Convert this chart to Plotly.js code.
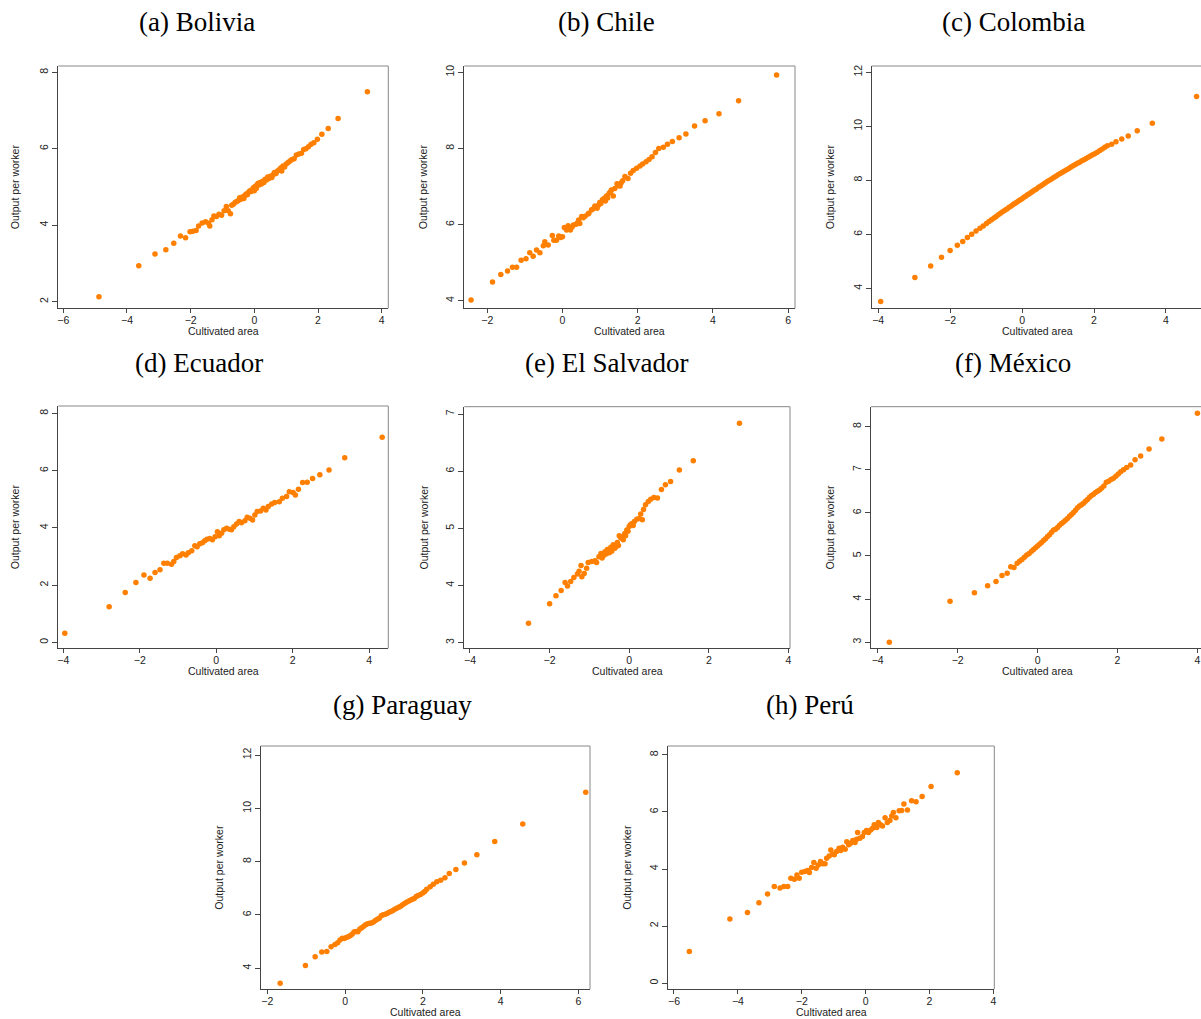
<!DOCTYPE html>
<html><head><meta charset="utf-8">
<script src="https://cdn.plot.ly/plotly-3.0.1.min.js"></script>
<style>body{margin:0;background:#fff}#chart{width:1201px;height:1019px}</style>
</head><body><div id="chart"></div>
<script>
// ---------- data ----------
const panelTitles = ["(a) Bolivia","(b) Chile","(c) Colombia","(d) Ecuador","(e) El Salvador","(f) México","(g) Paraguay","(h) Perú"];
const xLabel = "Cultivated area";
const yLabel = "Output per worker";

const boliviaX = [-4.88,-3.63,-3.12,-2.78,-2.53,-2.32,-2.16,-2.02,-1.93,-1.83,-1.75,-1.64,-1.53,-1.44,-1.40,-1.33,-1.27,-1.19,-1.11,-1.03,-0.95,-0.88,-0.82,-0.75,-0.71,-0.66,-0.60,-0.55,-0.50,-0.46,-0.42,-0.38,-0.33,-0.30,-0.26,-0.22,-0.18,-0.14,-0.10,-0.07,-0.03,0.00,0.03,0.06,0.09,0.12,0.15,0.19,0.22,0.26,0.30,0.34,0.38,0.42,0.46,0.50,0.55,0.59,0.63,0.68,0.73,0.78,0.83,0.86,0.90,0.95,1.00,1.06,1.12,1.18,1.25,1.32,1.40,1.48,1.55,1.62,1.70,1.78,1.87,1.98,2.12,2.32,2.63,3.55];
const boliviaY = [2.13,2.94,3.25,3.36,3.53,3.72,3.67,3.83,3.84,3.86,3.98,4.06,4.09,4.05,3.98,4.14,4.24,4.23,4.29,4.26,4.38,4.49,4.38,4.30,4.52,4.55,4.60,4.62,4.65,4.72,4.68,4.74,4.70,4.78,4.82,4.80,4.86,4.90,4.88,4.93,4.98,4.90,5.02,4.96,5.06,5.10,5.05,5.12,5.08,5.15,5.12,5.20,5.18,5.26,5.22,5.28,5.25,5.32,5.38,5.35,5.42,5.45,5.50,5.42,5.55,5.52,5.60,5.64,5.68,5.72,5.74,5.84,5.86,5.88,5.98,6.00,6.05,6.12,6.16,6.25,6.38,6.53,6.79,7.49];

const chileX = [-2.43,-1.86,-1.64,-1.46,-1.33,-1.22,-1.10,-0.97,-0.87,-0.78,-0.69,-0.60,-0.51,-0.47,-0.38,-0.27,-0.23,-0.16,-0.10,-0.05,0.00,0.05,0.08,0.11,0.15,0.21,0.25,0.29,0.36,0.40,0.43,0.46,0.51,0.55,0.60,0.68,0.70,0.77,0.80,0.86,0.92,0.95,0.99,1.02,1.06,1.11,1.14,1.17,1.20,1.24,1.28,1.30,1.35,1.39,1.45,1.48,1.53,1.56,1.60,1.66,1.74,1.81,1.88,1.97,2.06,2.13,2.22,2.30,2.38,2.47,2.56,2.68,2.79,2.92,3.10,3.28,3.51,3.79,4.16,4.68,5.69];
const chileY = [4.02,4.49,4.69,4.78,4.88,4.88,5.06,5.10,5.26,5.17,5.33,5.26,5.44,5.55,5.46,5.71,5.59,5.59,5.70,5.66,5.68,5.92,5.90,5.86,5.97,5.86,5.93,5.99,6.01,6.05,6.12,6.03,6.21,6.18,6.22,6.28,6.30,6.38,6.40,6.49,6.43,6.50,6.58,6.55,6.65,6.69,6.62,6.75,6.70,6.82,6.86,6.91,6.75,6.95,7.07,7.02,7.01,7.10,7.15,7.26,7.21,7.35,7.42,7.48,7.54,7.59,7.65,7.71,7.78,7.89,8.00,8.03,8.11,8.18,8.28,8.38,8.59,8.73,8.91,9.25,9.93];

const colombiaX = [-3.93,-2.98,-2.54,-2.24,-2.00,-1.80,-1.65,-1.52,-1.40,-1.28,-1.17,-1.08,-0.99,-0.92,-0.85,-0.78,-0.72,-0.66,-0.60,-0.54,-0.48,-0.42,-0.36,-0.30,-0.25,-0.20,-0.15,-0.10,-0.05,0.00,0.05,0.10,0.15,0.20,0.25,0.30,0.35,0.40,0.46,0.52,0.58,0.64,0.70,0.76,0.82,0.88,0.94,1.00,1.06,1.12,1.18,1.24,1.30,1.36,1.42,1.48,1.54,1.60,1.66,1.72,1.78,1.84,1.90,1.96,2.02,2.09,2.16,2.23,2.30,2.37,2.49,2.61,2.77,2.95,3.20,3.62,4.85];
const colombiaY = [3.51,4.40,4.83,5.15,5.40,5.59,5.73,5.88,6.00,6.12,6.22,6.31,6.40,6.47,6.54,6.60,6.66,6.72,6.78,6.83,6.89,6.94,7.00,7.05,7.10,7.14,7.19,7.23,7.28,7.32,7.37,7.41,7.46,7.50,7.55,7.59,7.64,7.68,7.74,7.79,7.84,7.90,7.95,8.00,8.05,8.10,8.15,8.20,8.25,8.30,8.34,8.39,8.44,8.49,8.54,8.58,8.63,8.67,8.72,8.76,8.81,8.85,8.90,8.94,8.98,9.04,9.10,9.16,9.22,9.28,9.33,9.43,9.53,9.64,9.83,10.11,11.10];

const ecuadorX = [-3.96,-2.80,-2.38,-2.10,-1.89,-1.73,-1.60,-1.47,-1.37,-1.28,-1.17,-1.11,-1.04,-0.95,-0.88,-0.79,-0.73,-0.64,-0.56,-0.50,-0.43,-0.36,-0.30,-0.24,-0.17,-0.10,-0.03,0.03,0.08,0.14,0.20,0.27,0.34,0.40,0.46,0.53,0.60,0.66,0.75,0.81,0.88,0.95,1.01,1.07,1.16,1.23,1.30,1.36,1.45,1.53,1.65,1.73,1.84,1.91,2.01,2.07,2.15,2.26,2.38,2.52,2.71,2.95,3.36,4.34];
const ecuadorY = [0.32,1.24,1.74,2.09,2.35,2.24,2.44,2.53,2.76,2.76,2.73,2.82,2.96,3.02,3.09,3.05,3.13,3.20,3.37,3.34,3.44,3.48,3.55,3.60,3.63,3.58,3.69,3.86,3.72,3.81,3.93,3.98,3.95,3.93,4.04,4.13,4.22,4.18,4.25,4.37,4.33,4.27,4.45,4.57,4.59,4.68,4.62,4.74,4.83,4.88,4.91,5.03,5.09,5.26,5.23,5.15,5.35,5.58,5.59,5.72,5.85,6.02,6.45,7.16];

const salvadorX = [-2.53,-2.00,-1.84,-1.71,-1.61,-1.55,-1.47,-1.39,-1.30,-1.26,-1.21,-1.19,-1.13,-1.07,-1.03,-0.94,-0.86,-0.82,-0.76,-0.71,-0.68,-0.65,-0.61,-0.58,-0.55,-0.52,-0.50,-0.46,-0.44,-0.40,-0.36,-0.33,-0.30,-0.27,-0.25,-0.21,-0.18,-0.15,-0.11,-0.09,-0.06,-0.03,0.00,0.03,0.06,0.10,0.13,0.19,0.25,0.29,0.33,0.36,0.41,0.48,0.54,0.62,0.71,0.81,0.91,1.04,1.26,1.61,2.77];
const salvadorY = [3.34,3.68,3.82,3.91,4.05,3.99,4.07,4.14,4.20,4.25,4.35,4.15,4.21,4.30,4.40,4.42,4.43,4.40,4.50,4.56,4.48,4.52,4.59,4.55,4.63,4.62,4.57,4.67,4.60,4.71,4.65,4.68,4.75,4.70,4.87,4.83,4.85,4.80,4.91,4.87,4.97,4.95,5.03,5.06,5.08,5.05,5.12,5.16,5.17,5.25,5.15,5.33,5.41,5.47,5.51,5.54,5.53,5.68,5.76,5.82,6.02,6.18,6.84];

const mexicoX = [-3.71,-2.19,-1.58,-1.25,-1.04,-0.89,-0.76,-0.67,-0.59,-0.51,-0.45,-0.39,-0.33,-0.27,-0.21,-0.15,-0.10,-0.05,0.00,0.05,0.10,0.15,0.20,0.25,0.30,0.35,0.40,0.45,0.50,0.55,0.60,0.65,0.70,0.75,0.80,0.85,0.90,0.95,1.00,1.05,1.10,1.15,1.20,1.25,1.30,1.35,1.40,1.45,1.50,1.55,1.60,1.66,1.72,1.78,1.84,1.90,1.96,2.02,2.08,2.15,2.23,2.33,2.44,2.58,2.79,3.11,4.00];
const mexicoY = [3.00,3.95,4.15,4.31,4.41,4.55,4.60,4.75,4.73,4.83,4.88,4.92,4.97,5.02,5.06,5.11,5.15,5.19,5.23,5.27,5.31,5.36,5.40,5.45,5.49,5.55,5.60,5.62,5.66,5.71,5.75,5.79,5.83,5.87,5.92,5.96,6.01,6.06,6.12,6.16,6.19,6.22,6.27,6.31,6.36,6.40,6.43,6.47,6.50,6.53,6.57,6.62,6.71,6.73,6.77,6.80,6.85,6.90,6.95,7.00,7.05,7.11,7.23,7.32,7.48,7.71,8.31];

const paraguayX = [-1.67,-1.02,-0.77,-0.60,-0.47,-0.36,-0.26,-0.19,-0.13,-0.07,-0.02,0.03,0.08,0.13,0.18,0.23,0.28,0.33,0.38,0.43,0.48,0.53,0.58,0.63,0.68,0.73,0.78,0.83,0.88,0.93,0.98,1.03,1.08,1.13,1.18,1.23,1.28,1.33,1.38,1.43,1.48,1.53,1.58,1.63,1.68,1.73,1.78,1.83,1.88,1.94,2.00,2.05,2.10,2.19,2.27,2.36,2.46,2.57,2.68,2.85,3.07,3.39,3.85,4.57,6.19];
const paraguayY = [3.44,4.10,4.43,4.61,4.63,4.81,4.89,4.96,5.06,5.13,5.12,5.15,5.18,5.22,5.28,5.36,5.38,5.37,5.47,5.52,5.58,5.63,5.67,5.69,5.70,5.74,5.79,5.84,5.88,5.97,6.01,6.03,6.05,6.10,6.13,6.17,6.21,6.25,6.29,6.33,6.38,6.43,6.48,6.51,6.55,6.59,6.62,6.69,6.73,6.77,6.82,6.88,6.96,7.06,7.15,7.25,7.30,7.40,7.56,7.71,7.95,8.26,8.76,9.41,10.60];

const peruX = [-5.52,-4.25,-3.70,-3.34,-3.07,-2.86,-2.68,-2.56,-2.44,-2.34,-2.23,-2.15,-2.08,-2.00,-1.90,-1.82,-1.76,-1.69,-1.62,-1.55,-1.48,-1.41,-1.34,-1.27,-1.22,-1.14,-1.09,-1.03,-0.98,-0.91,-0.83,-0.78,-0.72,-0.64,-0.59,-0.53,-0.47,-0.40,-0.33,-0.28,-0.25,-0.18,-0.10,-0.04,0.03,0.09,0.16,0.22,0.27,0.35,0.40,0.47,0.53,0.61,0.68,0.76,0.82,0.87,0.95,1.05,1.13,1.20,1.31,1.44,1.58,1.77,2.05,2.87];
const peruY = [1.11,2.25,2.47,2.82,3.12,3.39,3.33,3.39,3.39,3.68,3.64,3.79,3.68,3.89,3.91,3.95,3.88,4.05,4.23,4.03,4.14,4.26,4.18,4.18,4.38,4.46,4.67,4.53,4.50,4.61,4.73,4.65,4.76,4.69,4.96,4.85,4.90,5.00,4.93,5.04,5.28,5.08,5.14,5.28,5.35,5.28,5.37,5.43,5.55,5.46,5.63,5.55,5.51,5.80,5.63,5.70,5.86,5.98,5.80,6.04,6.05,6.28,6.07,6.39,6.36,6.54,6.89,7.38];

const seriesX = [boliviaX, chileX, colombiaX, ecuadorX, salvadorX, mexicoX, paraguayX, peruX];
const seriesY = [boliviaY, chileY, colombiaY, ecuadorY, salvadorY, mexicoY, paraguayY, peruY];

// ---------- layout (pixel frames of each plot region) ----------
const W = 1201, H = 1019;
const panels = [
  {frame:[58.3,388.3,66,308.3],   xr:[-6.157,4.207], yr:[1.827,8.165], ydt:2, right:true, title:[197,22]},
  {frame:[464.3,795,66,308.3],    xr:[-2.61,6.18],   yr:[3.80,10.165], ydt:2, right:true, title:[606,22]},
  {frame:[871.7,1201,66,308.3],   xr:[-4.18,4.973],  yr:[3.26,12.23],  ydt:2, right:false, title:[1013,22], xtc:1037},
  {frame:[58.3,388.3,406,648.3],  xr:[-4.13,4.50],   yr:[-0.21,8.255], ydt:2, right:true, title:[199,363]},
  {frame:[464.3,790,406.7,648.3], xr:[-4.143,4.04],  yr:[2.90,7.128],  ydt:1, right:true, title:[606,363]},
  {frame:[871,1201,406.7,648.3],  xr:[-4.168,4.09],  yr:[2.86,8.46],   ydt:1, right:false, title:[1013,363], xtc:1037},
  {frame:[260.7,590,746,989.3],   xr:[-2.17,6.30],   yr:[3.21,12.34],  ydt:2, right:true, title:[402,705]},
  {frame:[667.7,994.3,746,989.3], xr:[-6.197,4.03],  yr:[-0.22,8.315], ydt:2, right:true, title:[810,705]}
];
const yTitleX = [15,423,830,15,423,829,219,627];

const px = v => v / W;
const py = v => 1 - v / H;
const orange = "rgb(255,127,0)";
const axisCol = "#444";
const tickFont = {family:"Liberation Sans, Arial, sans-serif", size:10.5, color:"#222"};

const data = [];
const layout = {
  width: W, height: H, margin:{l:0,r:0,t:0,b:0},
  paper_bgcolor:"#fff", plot_bgcolor:"#fff", showlegend:false,
  annotations: [], shapes: []
};

panels.forEach((p, i) => {
  const n = i === 0 ? "" : String(i + 1);
  const [l, r, t, b] = p.frame;
  data.push({
    type:"scatter", mode:"markers", x: seriesX[i], y: seriesY[i],
    xaxis:"x"+n, yaxis:"y"+n,
    marker:{color:orange, size:5.5, line:{width:0}}, hoverinfo:"skip"
  });
  layout["xaxis"+n] = {
    domain:[px(l), px(r)], range:p.xr, anchor:"y"+n,
    tick0:0, dtick:2, ticks:"outside", ticklen:4, tickwidth:1, tickcolor:axisCol,
    ticklabelstandoff:-2,
    showline:true, linecolor:axisCol, linewidth:1, showgrid:false, zeroline:false,
    tickfont:tickFont, fixedrange:true
  };
  layout["yaxis"+n] = {
    domain:[py(b), py(t)], range:p.yr, anchor:"x"+n,
    tick0:0, dtick:p.ydt, ticks:"outside", ticklen:5, tickwidth:1, tickcolor:axisCol,
    tickangle:-90,
    showline:true, linecolor:axisCol, linewidth:1, showgrid:false, zeroline:false,
    tickfont:tickFont, fixedrange:true
  };
  // top & right frame lines
  layout.shapes.push({type:"line", xref:"x"+n+" domain", yref:"y"+n+" domain", x0:0, x1:1, y0:1, y1:1, line:{color:"#888", width:1}});
  if (p.right) layout.shapes.push({type:"line", xref:"x"+n+" domain", yref:"y"+n+" domain", x0:1, x1:1, y0:0, y1:1, line:{color:"#888", width:1}});
  // panel title
  layout.annotations.push({text:panelTitles[i], xref:"paper", yref:"paper", x:px(p.title[0]), y:py(p.title[1]),
    xanchor:"center", yanchor:"middle", showarrow:false,
    font:{family:"Liberation Serif, Times New Roman, serif", size:27, color:"#000"}});
  // x axis title
  const xc = p.xtc !== undefined ? p.xtc : (l + r) / 2;
  layout.annotations.push({text:xLabel, xref:"paper", yref:"paper", x:px(xc), y:py(b + 23),
    xanchor:"center", yanchor:"middle", showarrow:false,
    font:{family:"Liberation Sans, Arial, sans-serif", size:10.5, color:"#222"}});
  // y axis title
  layout.annotations.push({text:yLabel, xref:"paper", yref:"paper", x:px(yTitleX[i]), y:py((t + b) / 2),
    xanchor:"center", yanchor:"middle", showarrow:false, textangle:-90,
    font:{family:"Liberation Sans, Arial, sans-serif", size:10.5, color:"#222"}});
});

Plotly.newPlot("chart", data, layout, {staticPlot:true, displayModeBar:false});
</script>
</body></html>
